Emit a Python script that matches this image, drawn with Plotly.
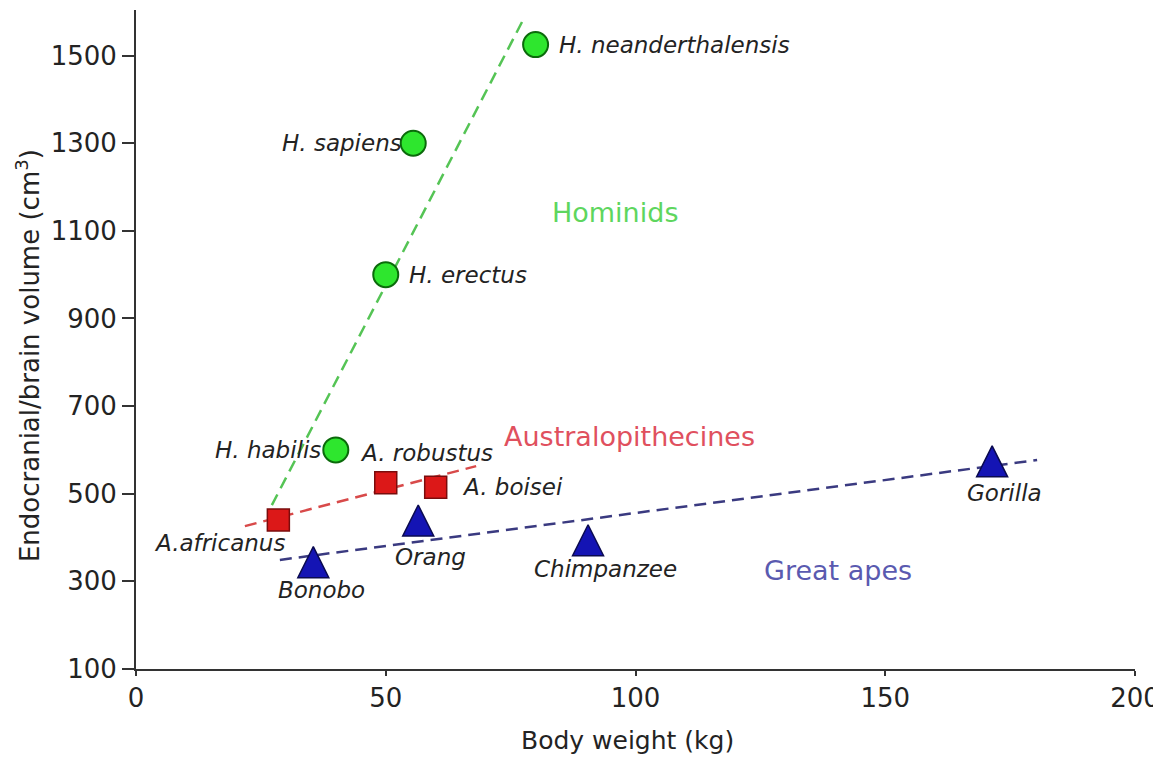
import plotly.graph_objects as go

# ---------------- data ----------------
hom_names = ["H. neanderthalensis", "H. sapiens", "H. erectus", "H. habilis"]
hom_x = [80, 55.5, 50, 40]
hom_y = [1525, 1300, 1000, 600]

aus_names = ["A.africanus", "A. robustus", "A. boisei"]
aus_x = [28.5, 50, 60]
aus_y = [440, 525, 515]

ape_names = ["Bonobo", "Orang", "Chimpanzee", "Gorilla"]
ape_x = [35.5, 56.5, 90.5, 171.4]
ape_y = [345, 440, 395, 575]

# trend lines (start / end)
hom_line_x = [27.2, 77.3]
hom_line_y = [474, 1577]
aus_line_x = [21.8, 68.1]
aus_line_y = [426, 563]
ape_line_x = [28.8, 180.4]
ape_line_y = [349, 577]

group_names = ["Hominids", "Australopithecines", "Great apes"]
group_x = [95.9, 98.7, 140.5]
group_y = [1141, 630, 324]

x_ticks = [0, 50, 100, 150, 200]
y_ticks = [100, 300, 500, 700, 900, 1100, 1300, 1500]

# ---------------- styles ----------------
FONT = "DejaVu Sans"
TXT = "#232323"
hom_label_off = [(21, 0, "left"), (-9, 0, "right"), (21, 0, "left"), (-13, 0, "right")]
aus_label_off = [(9, -23, "right"), (-28, 30, "left"), (24, 0, "left")]
ape_label_off = [(8, -28, "center"), (12, -37, "center"), (17, -29, "center"), (12, -32, "center")]
group_colors = ["#5ed65e", "#e0505e", "#5a5ab0"]

fig = go.Figure()

dash = "12px,7px"
fig.add_trace(go.Scatter(x=hom_line_x, y=hom_line_y, mode="lines",
                         line=dict(color="#55c455", width=2.5, dash=dash), hoverinfo="skip"))
fig.add_trace(go.Scatter(x=aus_line_x, y=aus_line_y, mode="lines",
                         line=dict(color="#d84a4a", width=2.5, dash=dash), hoverinfo="skip"))
fig.add_trace(go.Scatter(x=ape_line_x, y=ape_line_y, mode="lines",
                         line=dict(color="#3a3a80", width=2.5, dash=dash), hoverinfo="skip"))

fig.add_trace(go.Scatter(x=hom_x, y=hom_y, mode="markers", text=hom_names,
                         marker=dict(symbol="circle", size=25, color="#2ee62e",
                                     line=dict(color="#0b6a0b", width=2))))
fig.add_trace(go.Scatter(x=aus_x, y=aus_y, mode="markers", text=aus_names,
                         marker=dict(symbol="square", size=22, color="#dc1818",
                                     line=dict(color="#7a0c0c", width=1.5))))
fig.add_trace(go.Scatter(x=ape_x, y=ape_y, mode="markers", text=ape_names,
                         marker=dict(symbol="arrow-down", angle=180, standoff=15, size=31,
                                     color="#1414b4", line=dict(color="#0a0a50", width=1.5))))

annotations = []
for names, xs, ys, offs in [(hom_names, hom_x, hom_y, hom_label_off),
                            (aus_names, aus_x, aus_y, aus_label_off),
                            (ape_names, ape_x, ape_y, ape_label_off)]:
    for n, xv, yv, (dx, dy, anc) in zip(names, xs, ys, offs):
        annotations.append(dict(x=xv, y=yv, xref="x", yref="y", text="<i>" + n + "</i>",
                                showarrow=False, xanchor=anc, yanchor="middle",
                                xshift=dx, yshift=dy,
                                font=dict(family=FONT, size=23, color=TXT)))
for n, xv, yv, c in zip(group_names, group_x, group_y, group_colors):
    annotations.append(dict(x=xv, y=yv, xref="x", yref="y", text=n, showarrow=False,
                            xanchor="center", yanchor="middle",
                            font=dict(family=FONT, size=27, color=c)))

annotations.append(dict(x=0.492, y=-0.109, xref="paper", yref="paper", text="Body weight (kg)",
                        showarrow=False, xanchor="center", yanchor="middle",
                        font=dict(family=FONT, size=25, color=TXT)))
annotations.append(dict(x=-0.108, y=0.475, xref="paper", yref="paper",
                        text="Endocranial/brain volume (cm<sup>3</sup>)", textangle=-90,
                        showarrow=False, xanchor="center", yanchor="middle",
                        font=dict(family=FONT, size=26, color=TXT)))

# page body adds an 8px offset, so the figure is 8px smaller and margins shifted
fig.update_layout(
    width=1153, height=752,
    margin=dict(l=128, r=26, t=2, b=91, autoexpand=False),
    paper_bgcolor="white", plot_bgcolor="white",
    showlegend=False,
    annotations=annotations,
    xaxis=dict(range=[0, 200], tickvals=x_ticks, ticks="outside", ticklen=5, tickwidth=1.5,
               tickcolor="#333", showline=True, linecolor="#333", linewidth=2,
               showgrid=False, zeroline=False, automargin=False,
               tickfont=dict(family=FONT, size=26, color=TXT)),
    yaxis=dict(range=[100, 1604], tickvals=y_ticks, ticks="outside", ticklen=12, tickwidth=1.5,
               tickcolor="#333", showline=True, linecolor="#333", linewidth=2,
               showgrid=False, zeroline=False, automargin=False,
               tickfont=dict(family=FONT, size=26, color=TXT)),
)

fig.write_html("out.html")
